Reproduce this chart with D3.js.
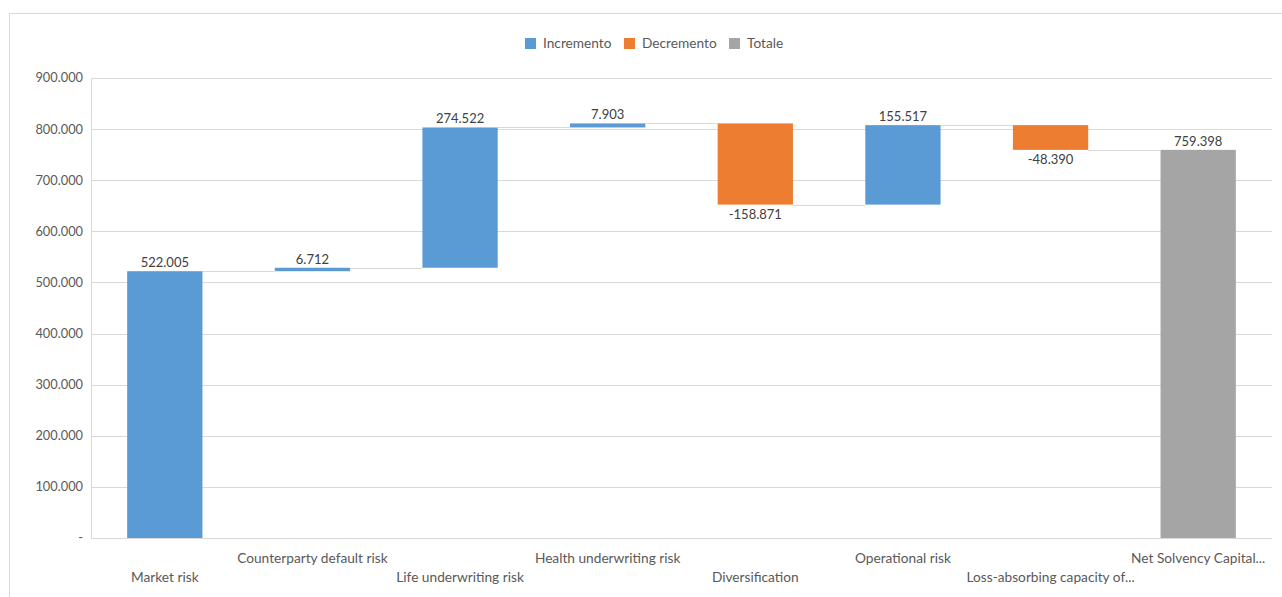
<!DOCTYPE html>
<html>
<head>
<meta charset="utf-8">
<script src="https://cdn.jsdelivr.net/npm/d3@7"></script>
<style>
  html, body { margin: 0; padding: 0; background: #fff; }
  svg { display: block; font-family: Lato, "Open Sans", sans-serif; }
</style>
</head>
<body>
<svg id="chart" width="1282" height="597"></svg>
<script>
const categories = ["Market risk", "Counterparty default risk", "Life underwriting risk", "Health underwriting risk", "Diversification", "Operational risk", "Loss-absorbing capacity of...", "Net Solvency Capital..."];
const values = [522.005, 6.712, 274.522, 7.903, -158.871, 155.517, -48.390, 759.398];
const isTotal = [false, false, false, false, false, false, false, true];
const valueLabels = ["522.005", "6.712", "274.522", "7.903", "-158.871", "155.517", "-48.390", "759.398"];
const yTicks = [0, 100, 200, 300, 400, 500, 600, 700, 800, 900];
const yTickLabels = ["-", "100.000", "200.000", "300.000", "400.000", "500.000", "600.000", "700.000", "800.000", "900.000"];
const legendNames = ["Incremento", "Decremento", "Totale"];
const colors = { inc: "#5b9bd5", dec: "#ed7d31", tot: "#a5a5a5" };

const svg = d3.select("#chart");
const pLeft = 91, pRight = 1272, pTop = 78, pBottom = 538;

// chart border
svg.append("rect").attr("x", 9.5).attr("y", 13.5).attr("width", 1290).attr("height", 600)
  .attr("fill", "none").attr("stroke", "#d9d9d9");

const x = d3.scaleBand().domain(categories).range([pLeft, pRight]).paddingInner(0.49).paddingOuter(0.245);
const y = d3.scaleLinear().domain([0, 900]).range([pBottom, pTop]);

// data preparation
let cum = 0;
const bars = categories.map((c, i) => {
  let start, end, type;
  if (isTotal[i]) { start = 0; end = values[i]; type = "tot"; cum = values[i]; }
  else { start = cum; end = cum + values[i]; cum = end; type = values[i] >= 0 ? "inc" : "dec"; }
  return { c, i, start, end, type, label: valueLabels[i] };
});

// gridlines
svg.append("g").selectAll("line").data(yTicks.slice(1)).join("line")
  .attr("x1", pLeft).attr("x2", pRight)
  .attr("y1", d => Math.round(y(d)) + 0.5).attr("y2", d => Math.round(y(d)) + 0.5)
  .attr("stroke", "#d9d9d9").attr("stroke-width", 1);

// axis lines
svg.append("line").attr("x1", pLeft + 0.5).attr("x2", pLeft + 0.5).attr("y1", y(900)).attr("y2", y(0))
  .attr("stroke", "#d9d9d9");
svg.append("line").attr("x1", pLeft).attr("x2", pRight).attr("y1", Math.round(y(0)) + 0.5).attr("y2", Math.round(y(0)) + 0.5)
  .attr("stroke", "#d9d9d9");

// y tick labels
svg.append("g").selectAll("text").data(yTicks).join("text")
  .attr("x", 83).attr("y", d => y(d)).attr("dy", "0.35em")
  .attr("text-anchor", "end").attr("font-size", 12.8).attr("fill", "#595959")
  .text((d, i) => yTickLabels[i]);

// connectors
svg.append("g").selectAll("line").data(bars.slice(0, -1)).join("line")
  .attr("x1", d => x(d.c) + x.bandwidth())
  .attr("x2", d => x(categories[d.i + 1]))
  .attr("y1", d => Math.round(y(d.end)) + 0.5).attr("y2", d => Math.round(y(d.end)) + 0.5)
  .attr("stroke", "#d9d9d9").attr("stroke-width", 1.2);

// bars
svg.append("g").selectAll("rect").data(bars).join("rect")
  .attr("x", d => x(d.c)).attr("width", x.bandwidth())
  .attr("y", d => y(Math.max(d.start, d.end)))
  .attr("height", d => Math.abs(y(d.start) - y(d.end)))
  .attr("fill", d => colors[d.type]);

// value labels
svg.append("g").selectAll("text").data(bars).join("text")
  .attr("x", d => x(d.c) + x.bandwidth() / 2)
  .attr("y", d => d.type === "dec" ? y(Math.min(d.start, d.end)) + 14 : y(Math.max(d.start, d.end)) - 4)
  .attr("text-anchor", "middle").attr("font-size", 13).attr("fill", "#404040")
  .text(d => d.label);

// category labels (staggered)
svg.append("g").selectAll("text").data(categories).join("text")
  .attr("x", d => x(d) + x.bandwidth() / 2)
  .attr("y", (d, i) => i % 2 === 0 ? 582 : 563)
  .attr("text-anchor", "middle").attr("font-size", 13.7).attr("fill", "#595959")
  .text(d => d);

// legend
const legendX = [525, 624, 729];
const legendColors = [colors.inc, colors.dec, colors.tot];
const lg = svg.append("g").selectAll("g").data(legendNames).join("g")
  .attr("transform", (d, i) => `translate(${legendX[i]},38)`);
lg.append("rect").attr("width", 11).attr("height", 11).attr("fill", (d, i) => legendColors[i]);
lg.append("text").attr("x", 18).attr("y", 5.5).attr("dy", "0.35em")
  .attr("font-size", 13.7).attr("fill", "#595959").text(d => d);
</script>
</body>
</html>
